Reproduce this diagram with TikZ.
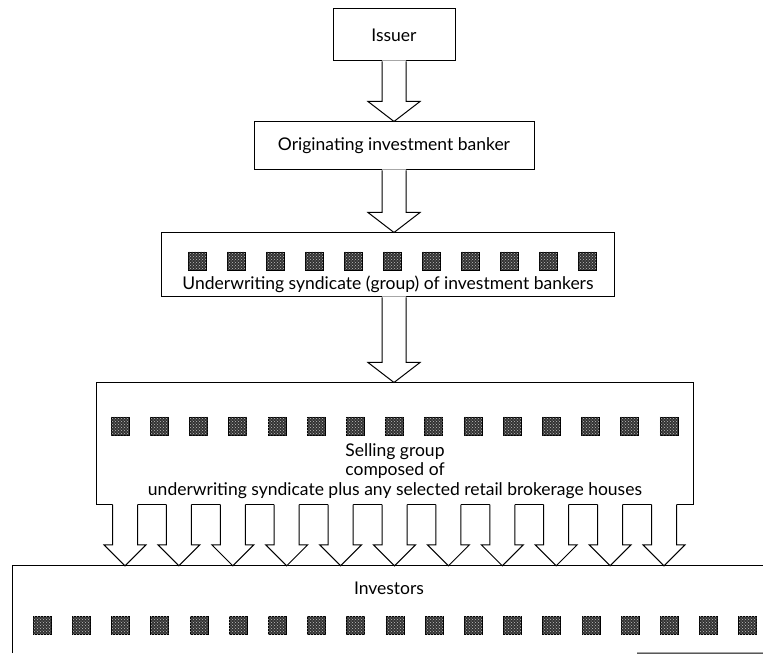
\documentclass[tikz,border=0pt]{standalone}
\usepackage{fontspec}
\setmainfont{Lato}
\usetikzlibrary{calc,patterns}
\newcommand\hollow[5]{%
  \fill[white] let \p1=(#1), \p2=(#2) in
    (\x2-#3pt,\y1+1pt) -- (\x2-#3pt,\y2+#5pt) -- (\x2-#4pt,\y2+#5pt) -- (\x2,\y2)
    -- (\x2+#4pt,\y2+#5pt) -- (\x2+#3pt,\y2+#5pt) -- (\x2+#3pt,\y1+1pt) -- cycle;
  \draw[line width=1pt, line join=miter] let \p1=(#1), \p2=(#2) in
    (\x2-#3pt,\y1) -- (\x2-#3pt,\y2+#5pt) -- (\x2-#4pt,\y2+#5pt) -- (\x2,\y2)
    -- (\x2+#4pt,\y2+#5pt) -- (\x2+#3pt,\y2+#5pt) -- (\x2+#3pt,\y1);
}
\begin{document}
\begin{tikzpicture}[x=1pt,y=1pt,
  box/.style={draw, line width=1pt, fill=white, inner sep=0pt},
  lbl/.style={font=\fontsize{17.5}{19.5}\selectfont, inner sep=0pt},
  sq/.style={minimum size=18pt, inner sep=0pt, draw=black, line width=0.6pt,
    fill=black!80, postaction={pattern=crosshatch dots, pattern color=black!25}},
  ]
\useasboundingbox (0,0) rectangle (763,654);
% boxes
\node[box, lbl, minimum width=122pt, minimum height=52pt] (issuer) at (394,619) {Issuer};
\node[box, lbl, minimum width=280pt, minimum height=48pt] (orig) at (394,508) {Originating investment banker};
\node[box, minimum width=453pt, minimum height=64pt] (uw) at (387.5,389) {};
\node[box, minimum width=597pt, minimum height=121pt] (sell) at (394.5,210.5) {};
\node[inner sep=0pt, minimum width=762pt, minimum height=87pt] (inv) at (394,44.5) {};
\draw[line width=1pt] (inv.south west) -- (inv.north west) -- (inv.north east);
\coordinate (invb) at (637,1);
\draw[line width=1pt] (invb) -- (inv.south east);
% texts
\node[lbl] (uwt) at (388,370) {Underwriting syndicate (group) of investment bankers};
\node[lbl, align=center] (st) at (395,183) {Selling group\\composed of\\underwriting syndicate plus any selected retail brokerage houses};
\node[lbl] (it) at (389,66) {Investors};
% squares
\foreach \i in {0,...,10} \node[sq] (us\i) at ({197+39*\i},393) {};
\foreach \i in {0,...,14} \node[sq] (ss\i) at ({120+39.2*\i},228) {};
\foreach \i in {0,...,18} \node[sq] (is\i) at ({42+39.2*\i},29) {};
% big arrows
\hollow{issuer.south}{orig.north}{12}{26}{20}
\hollow{orig.south}{uw.north -| orig.south}{12}{26}{20}
\hollow{uw.south -| orig.south}{sell.north -| orig.south}{12}{26}{20}
% small arrows
\foreach \i in {0,...,10} {
  \coordinate (c\i) at ({125+53.9*\i},100);
  \hollow{sell.south -| c\i}{inv.north -| c\i}{12.5}{21}{21}
}
\end{tikzpicture}
\end{document}
